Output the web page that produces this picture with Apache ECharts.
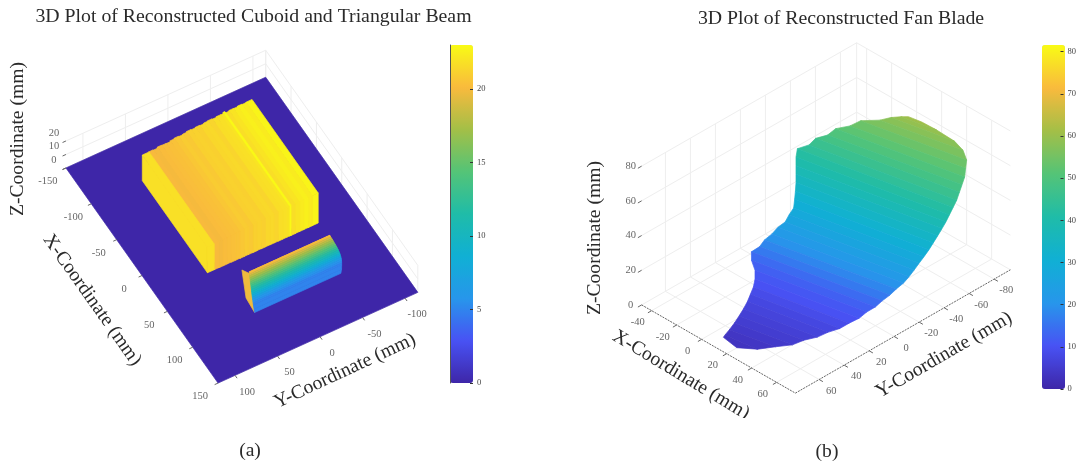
<!DOCTYPE html>
<html><head><meta charset="utf-8">
<style>html,body{margin:0;padding:0;background:#fff}#c{width:1079px;height:468px}</style>
<script src="https://cdn.jsdelivr.net/npm/echarts@6/dist/echarts.min.js"></script>
</head><body><div id="c"></div>
<script>
// ---------- panel (a) values, millimetres ----------
const aXTicks=[-150,-100,-50,0,50,100,150];
const aYTicks=[100,50,0,-50,-100];
const aZTicks=[0,10,20];
const aBarTicks=[0,5,10,15,20];
const cuboidY=[60,52,47,42,37,32,27,22,17,12,7,2,-3,-8,-13,-18,-23,-28,-33,-36,-38,-43,-48,-53,-58,-63,-70];
const cuboidZ=[19,19,19.2,19.4,19.6,19.8,20,20.2,20.4,20.6,20.7,20.9,21,21.2,21.3,21.4,21.5,21.6,21.7,22.4,21.6,21.8,22,22,22.1,22.2];
const cuboidTone=[21.8,20.1,20,20.2,20.3,20.4,20.5,20.7,20.9,20.8,21.1,21.2,21.1,21.4,21.5,21.3,21.7,21.8,22,22.9,21.7,22,22.3,22.5,22.3,22.7];
const cuboidBack=[-100,-100.3,-99.6,-100.6,-100,-99.5,-100.2,-100.8,-100,-100.4,-101.2,-100.5,-101,-100.3,-101,-101.4,-100.7,-101.3,-101,-101.5,-100.9,-101.5,-101,-101.7,-101.1,-101.5];
const cuboidFront=[28.5,28.5,28.7,28.7,28.6,28.8,28.7,28.9,28.8,28.9,29,28.8,29,28.9,29,29,29.1,29,29,29.1,29.2,29,29.1,29,29.1,29];
const beamZ=[0,2,4,5,6,7,8,9,10,11,12,13,14,15,16,17,18,19,20,21];
const beamTone=[5,5,5,5.5,6,7,8,9,10,11,12,13,14,15,16,17,18,19,20,20.5];
const beamX=[93,91.8,90.3,89.5,88.8,88,87.3,86.5,85.8,85,84.3,83.5,82.8,82,81.3,80.5,79.8,79,78.3,77.5];
const beamYLeft=[43,43,42.8,42.7,42.5,42.4,42.3,42.2,42,41.8,41.6,41.5,41.3,41.2,41,40.8,40.7,40.5,40.3,40];
const beamYRight=[-58.5,-60,-61,-61.5,-61.8,-62,-62,-61.8,-61.6,-61.2,-60.7,-60.2,-59.6,-59,-58.3,-57.6,-57,-56.2,-55.4,-54.6];
const ridgeY=[40,35,31,26,21,17,12,8,3,-2,-6,-11,-15,-20,-25,-29,-34,-38,-43,-47,-51,-54.6];
const ridgeX=[78,78.7,77.5,78.5,77.8,78.9,77.7,78.3,77.4,78.5,77.9,78.7,77.5,78.4,77.7,78.8,77.6,78.3,77.7,78.5,77.9,78.5];
const wedgeX=[93,78,72,77.8];
const wedgeY=[43,40,45.4,44];
const wedgeZ=[0,20,21,3];
const wedgeTone=19.8;

// ---------- panel (b) values, millimetres ----------
const bXTicks=[-40,-20,0,20,40,60];
const bYTicks=[60,40,20,0,-20,-40,-60,-80];
const bZTicks=[0,20,40,60,80];
const bBarTicks=[0,10,20,30,40,50,60,70,80];
const bladeZ=[3,3.4,4,5,5.7,6.5,7.2,8,9.5,10.5,11.5,13,15,17,19,21,23,25,27,29,31,33,35,37,39,41,43,45,47,49,51,53,55,57,58.5,60,61];
const bladeLeftX=[10.9,10.4,9.2,7.8,5.6,3.4,0.7,-2.2,-4.3,-8,-12.9,-19.4,-23,-20.9,-21.2,-20,-19.8,-18.2,-19.3,-19.7,-23,-25.8,-29.2,-32.6,-36.2,-39.8,-42.6,-38.2,-37.7,-32.8,-31.6,-25.4,-22.3,-12.6,-8.2,-3,1.2];
const bladeLeftY=[72.5,70.7,66,60.6,54.7,49,43.1,37.8,33.3,28.3,23.4,19.7,16.2,11.7,7.5,2.8,-1.8,-6,-10.3,-14.3,-18.4,-21.8,-25.7,-29.1,-32.7,-36.3,-40.2,-45.1,-49.9,-54.5,-59.8,-65,-70.5,-76.2,-80.6,-83.3,-85.2];
const bladeRightX=[23.5,33.4,39.6,46.2,48.4,52.6,54.3,57.4,59.2,61,60.9,62.6,63.5,65,65.7,66.9,67.1,66.9,66.6,66.4,65.9,65.2,64.5,63.7,62.9,61.8,60.6,59.5,57.4,55.6,53.7,50.5,47.5,41.7,33.9,20.6,10.3];
const bladeRightY=[74.4,67.6,59.4,52.6,45.6,39,32.4,25.9,20.2,14,7.9,2.6,-2,-6.6,-11.1,-15.6,-19.8,-24.1,-28.3,-32.5,-37,-41.2,-45.4,-49.6,-53.6,-57.5,-61.6,-65.5,-69.8,-73.7,-77.7,-81.7,-85.5,-88.4,-89.5,-88.4,-86.8];

// ---------- camera and styling ----------
const parula=['#3E26A8','#4852F4','#2796EB','#10B0D4','#1FBCA8','#54C477','#A3BF47','#F9BA3D','#F9FB15'];
const serif='"Liberation Serif"';
function camera(ox,oy,ex,ey,ez){return (p)=>[ox+p[0]*ex[0]+p[1]*ey[0],oy+p[0]*ex[1]+p[1]*ey[1]-p[2]*ez];}
const camA=camera(244,229.2,[0.507,0.717],[-0.85,0.386],1.35);
const camB=camera(800.4,282.7,[1.25,0.717],[-1.25,0.717],1.735);
const aBox={x0:-150,x1:150,y0:-115,y1:120,zTop:20};
const bBox={x0:-48,x1:75,y0:-93,y1:79,zTop:80};
const wall='#eeeeee';

// ---------- builders ----------
function faceSeries(faces,cam,name){
  return {type:'custom',name,coordinateSystem:'cartesian2d',xAxisIndex:0,yAxisIndex:0,clip:false,silent:true,animation:false,z:3,
    data:faces.map((f,i)=>[f.tone,i]),
    renderItem(params,api){
      const f=faces[api.value(1)];const col=api.visual('color');
      return {type:'polygon',shape:{points:f.pts.map(p=>api.coord(cam(p)))},style:{fill:col,stroke:col,lineWidth:0.7}};
    }};
}
function lineSeries(segs,cam,z){
  return {type:'custom',coordinateSystem:'cartesian2d',xAxisIndex:0,yAxisIndex:0,clip:false,silent:true,animation:false,z,
    data:segs.map((s,i)=>[0,i]),
    renderItem(params,api){
      const s=segs[api.value(1)];const a=api.coord(cam(s.a)),b=api.coord(cam(s.b));
      return {type:'line',shape:{x1:a[0],y1:a[1],x2:b[0],y2:b[1]},style:{stroke:s.c,lineWidth:s.w||1,lineDash:s.d||null}};
    }};
}
function labelSeries(labs,cam){
  return {type:'custom',coordinateSystem:'cartesian2d',xAxisIndex:0,yAxisIndex:0,clip:false,silent:true,animation:false,z:5,
    data:labs.map((s,i)=>[0,i]),
    renderItem(params,api){
      const s=labs[api.value(1)];const a=api.coord(cam(s.p));
      return {type:'text',x:a[0]+s.o[0],y:a[1]+s.o[1],style:{text:String(s.t),fontFamily:serif,fontSize:10.5,fill:'#666',align:'center',verticalAlign:'middle'}};
    }};
}
function wallLines(box,xT,yT,zT){
  const s=[];
  zT.forEach(z=>{
    s.push({a:[box.x0,box.y1,z],b:[box.x0,box.y0,z],c:wall});
    s.push({a:[box.x0,box.y0,z],b:[box.x1,box.y0,z],c:wall});
  });
  s.push({a:[box.x0,box.y0,0],b:[box.x0,box.y0,box.zTop],c:wall});
  yT.forEach(y=>s.push({a:[box.x0,y,0],b:[box.x0,y,box.zTop],c:wall}));
  xT.forEach(x=>s.push({a:[x,box.y0,0],b:[x,box.y0,box.zTop],c:wall}));
  xT.forEach(x=>s.push({a:[x,box.y0,0],b:[x,box.y1,0],c:wall}));
  yT.forEach(y=>s.push({a:[box.x0,y,0],b:[box.x1,y,0],c:wall}));
  return s;
}
function tickLines(box,xT,yT,zT,len){
  const s=[];const c='#666';
  xT.forEach(x=>s.push({a:[x,box.y1,0],b:[x,box.y1+len,0],c}));
  yT.forEach(y=>s.push({a:[box.x1,y,0],b:[box.x1+len,y,0],c}));
  zT.forEach(z=>s.push({a:[box.x0,box.y1,z],b:[box.x0,box.y1+len,z],c}));
  return s;
}
function tickLabels(box,xT,yT,zT,ox,oy,oz){
  return [].concat(
    xT.map(t=>({t,p:[t,box.y1,0],o:ox})),
    yT.map(t=>({t,p:[box.x1,t,0],o:oy})),
    zT.map(t=>({t,p:[box.x0,box.y1,t],o:oz})));
}

// panel (a) faces, far to near
const aFaces=[{tone:0,pts:[[aBox.x0,aBox.y0,0],[aBox.x1,aBox.y0,0],[aBox.x1,aBox.y1,0],[aBox.x0,aBox.y1,0]]}];
for(let i=cuboidZ.length-1;i>=0;i--){
  const hi=cuboidY[i],lo=cuboidY[i+1],z=cuboidZ[i],t=cuboidTone[i],b=cuboidBack[i],f=cuboidFront[i];
  aFaces.push({tone:t,pts:[[b,hi,z],[f,hi,z],[f,hi,0],[b,hi,0]]});
  aFaces.push({tone:t,pts:[[b,lo,z],[f,lo,z],[f,hi,z],[b,hi,z]]});
  aFaces.push({tone:t,pts:[[f,lo,z],[f,hi,z],[f,hi,0],[f,lo,0]]});
}
aFaces.push({tone:wedgeTone,pts:wedgeX.map((x,i)=>[x,wedgeY[i],wedgeZ[i]])});
const last=beamZ.length-1;
for(let i=0;i<ridgeY.length-1;i++){
  aFaces.push({tone:beamTone[last],pts:[[beamX[last],ridgeY[i],beamZ[last]],[beamX[last],ridgeY[i+1],beamZ[last]],[ridgeX[i+1],ridgeY[i+1],beamZ[last]],[ridgeX[i],ridgeY[i],beamZ[last]]]});
}
for(let i=last-1;i>=0;i--){
  aFaces.push({tone:beamTone[i],pts:[[beamX[i],beamYLeft[i],beamZ[i]],[beamX[i],beamYRight[i],beamZ[i]],[beamX[i+1],beamYRight[i+1],beamZ[i+1]],[beamX[i+1],beamYLeft[i+1],beamZ[i+1]]]});
}
// panel (b) faces
const bFaces=[];
for(let i=bladeZ.length-2;i>=0;i--){
  bFaces.push({tone:(bladeZ[i]+bladeZ[i+1])/2,pts:[
    [bladeLeftX[i],bladeLeftY[i],bladeZ[i]],[bladeRightX[i],bladeRightY[i],bladeZ[i]],
    [bladeRightX[i+1],bladeRightY[i+1],bladeZ[i+1]],[bladeLeftX[i+1],bladeLeftY[i+1],bladeZ[i+1]]]});
}
const bAxisLines=[
  {a:[bBox.x0,bBox.y1,0],b:[bBox.x1,bBox.y1,0],c:'#666',d:[2,1]},
  {a:[bBox.x1,bBox.y1,0],b:[bBox.x1,bBox.y0,0],c:'#666',d:[2,1]}];

const series=[
  lineSeries(wallLines(aBox,aXTicks,aYTicks,aZTicks),camA,1),
  lineSeries(wallLines(bBox,bXTicks,bYTicks,bZTicks),camB,1),
  faceSeries(aFaces,camA,'Cuboid and beam'),
  faceSeries(bFaces,camB,'Fan blade'),
  lineSeries(tickLines(aBox,aXTicks,aYTicks,aZTicks,4),camA,4),
  lineSeries(tickLines(bBox,bXTicks,bYTicks,bZTicks,3).concat(bAxisLines),camB,4),
  labelSeries(tickLabels(aBox,aXTicks,aYTicks,aZTicks,[-18,13.5],[12,16.5],[-12,-8]),camA),
  labelSeries(tickLabels(bBox,bXTicks,bYTicks,bZTicks,[-14,12],[12,11.5],[-11,0]),camB)
];
function barAxis(grid,max,ticks){
  return {type:'value',gridIndex:grid,position:'right',min:0,max,z:10,
    axisLine:{show:false,onZero:false},splitLine:{show:false},
    axisTick:{show:true,inside:true,length:3,lineStyle:{color:'#333'},customValues:ticks},
    axisLabel:{show:true,margin:4,fontFamily:serif,fontSize:8.5,color:'#444',customValues:ticks}};
}
const titleStyle={fontFamily:serif,fontSize:19.8,fontWeight:'normal',color:'#2a2a2a'};
function axisTitle(text,x,y,deg,size){
  return {type:'text',x,y,rotation:deg*Math.PI/180,z:10,
    style:{text,fontFamily:serif,fontSize:size||19.6,fill:'#2a2a2a',align:'center',verticalAlign:'middle'}};
}
const option={
  animation:false,backgroundColor:'#fff',
  title:[
    {text:'3D Plot of Reconstructed Cuboid and Triangular Beam',left:248.5,top:2,textAlign:'center',textStyle:titleStyle},
    {text:'3D Plot of Reconstructed Fan Blade',left:836,top:4,textAlign:'center',textStyle:titleStyle}],
  grid:[
    {left:0,top:0,width:1079,height:468},
    {left:450,top:45,width:23,height:338},
    {left:1042,top:45,width:23,height:344}],
  xAxis:[
    {type:'value',gridIndex:0,min:0,max:1079,show:false},
    {type:'value',gridIndex:1,min:0,max:1,show:false},
    {type:'value',gridIndex:2,min:0,max:1,show:false}],
  yAxis:[
    {type:'value',gridIndex:0,min:0,max:468,inverse:true,show:false},
    barAxis(1,23,aBarTicks),
    barAxis(2,81.6,bBarTicks),
    {type:'value',gridIndex:1,position:'left',min:0,max:23,z:10,axisLine:{show:true,onZero:false,lineStyle:{color:'#555'}},axisTick:{show:false},axisLabel:{show:false},splitLine:{show:false}}],
  visualMap:[
    {type:'continuous',seriesIndex:2,dimension:0,min:0,max:23,left:450,top:45,itemWidth:23,itemHeight:338,padding:0,calculable:false,text:null,showLabel:false,inRange:{color:parula},hoverLink:false},
    {type:'continuous',seriesIndex:3,dimension:0,min:0,max:81.6,left:1042,top:45,itemWidth:23,itemHeight:344,padding:0,calculable:false,text:null,showLabel:false,inRange:{color:parula},hoverLink:false}],
  series,
  graphic:{elements:[
    axisTitle('Z-Coordinate (mm)',18,139,90),
    axisTitle('X-Coordinate (mm)',92,300,-54.7),
    axisTitle('Y-Coordinate (mm)',345,371,25),
    axisTitle('(a)',250,451,0),
    axisTitle('Z-Coordinate (mm)',595,238,90),
    axisTitle('X-Coordinate (mm)',681,375,-31),
    axisTitle('Y-Coordinate (mm)',944,355,30),
    {type:'rect',z:11,shape:{x:680,y:418,width:110,height:22},style:{fill:'#fff'}},
    axisTitle('(b)',827,452,0)
  ]}
};
option.graphic.elements[8].z=12;
const chart=echarts.init(document.getElementById('c'),null,{renderer:'canvas'});
chart.setOption(option);
</script></body></html>
